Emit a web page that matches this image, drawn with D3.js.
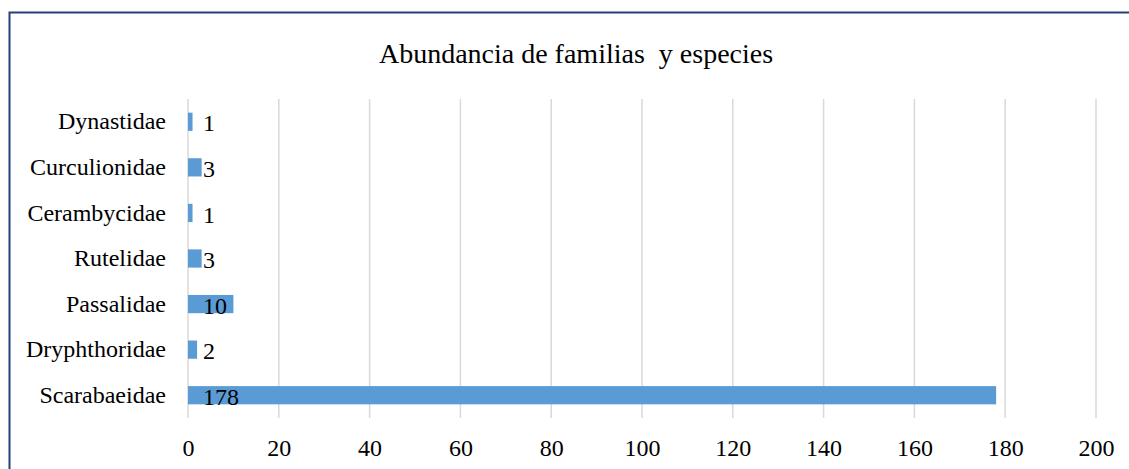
<!DOCTYPE html>
<html>
<head>
<meta charset="utf-8">
<script src="https://cdn.jsdelivr.net/npm/d3@7"></script>
<style>
  body { margin: 0; background: #fff; }
  text { font-family: "Liberation Serif", "Times New Roman", serif; fill: #000; }
</style>
</head>
<body>
<div id="chart"></div>
<script>
// data, top to bottom as shown
var families = ["Dynastidae", "Curculionidae", "Cerambycidae", "Rutelidae", "Passalidae", "Dryphthoridae", "Scarabaeidae"];
var counts = [1, 3, 1, 3, 10, 2, 178];
var ticks = [0, 20, 40, 60, 80, 100, 120, 140, 160, 180, 200];

var W = 1129, H = 469;
var margin = {top: 99, right: 33, bottom: 51, left: 188};
var width = W - margin.left - margin.right,
    height = H - margin.top - margin.bottom;

var svg = d3.select("#chart").append("svg")
    .attr("width", W)
    .attr("height", H);

// chart frame (runs off the right and bottom edge)
svg.append("rect")
    .attr("x", 9.5).attr("y", 12.5)
    .attr("width", 1300).attr("height", 700)
    .attr("fill", "none")
    .attr("stroke", "#243f7c")
    .attr("stroke-width", 2);

var g = svg.append("g")
    .attr("transform", "translate(" + margin.left + "," + margin.top + ")");

var x = d3.scaleLinear().domain([0, 200]).range([0, 908]);
var y = d3.scaleBand().domain(families).range([0, height]).paddingInner(0.6).paddingOuter(0.3);

// gridlines
g.selectAll(".grid")
    .data(ticks)
    .enter().append("line")
    .attr("class", "grid")
    .attr("x1", d => x(d)).attr("x2", d => x(d))
    .attr("y1", 0).attr("y2", height)
    .attr("stroke", "#d9d9d9")
    .attr("stroke-width", 1.5);

// x axis labels
var xAxis = d3.axisBottom(x).tickValues(ticks).tickSize(0).tickPadding(21);
var xg = g.append("g")
    .attr("transform", "translate(0," + height + ")")
    .call(xAxis);
xg.select(".domain").remove();
xg.selectAll("text")
    .style("font-family", "Liberation Serif, Times New Roman, serif")
    .style("font-size", "24px")
    .attr("fill", "#000");

// y axis labels
var yAxis = d3.axisLeft(y).tickSize(0).tickPadding(22);
var yg = g.append("g").call(yAxis);
yg.select(".domain").remove();
yg.selectAll("text")
    .style("font-family", "Liberation Serif, Times New Roman, serif")
    .style("font-size", "24px")
    .attr("fill", "#000");

var rows = families.map((f, i) => ({name: f, value: counts[i]}));

// bars
g.selectAll(".bar")
    .data(rows)
    .enter().append("rect")
    .attr("class", "bar")
    .attr("x", x(0))
    .attr("y", d => y(d.name))
    .attr("width", d => x(d.value) - x(0))
    .attr("height", y.bandwidth())
    .attr("fill", "#5b9bd5");

// value labels, at the base of the bar
g.selectAll(".lbl")
    .data(rows)
    .enter().append("text")
    .attr("class", "lbl")
    .attr("x", x(0) + 15)
    .attr("y", d => y(d.name) + y.bandwidth() / 2)
    .attr("dy", "0.4em")
    .style("font-size", "24px")
    .text(d => d.value);

// title
svg.append("text")
    .attr("x", 576)
    .attr("y", 53)
    .attr("dy", "0.35em")
    .style("text-anchor", "middle")
    .style("font-size", "28px")
    .attr("xml:space", "preserve")
    .text("Abundancia de familias  y especies");
</script>
</body>
</html>
